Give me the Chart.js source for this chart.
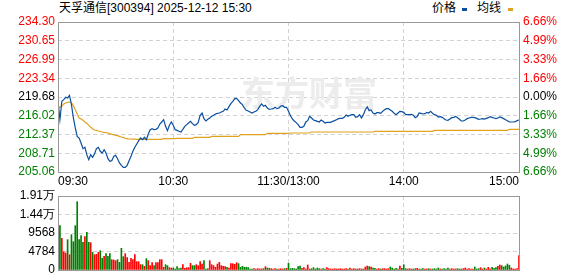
<!DOCTYPE html>
<html>
<head>
<meta charset="utf-8">
<script src="https://cdn.jsdelivr.net/npm/chart.js@4.4.0/dist/chart.umd.min.js"></script>
<style>
  html, body { margin: 0; padding: 0; background: #fff; overflow: hidden; }
  #wrap { position: relative; width: 578px; height: 276px; overflow: hidden; }
  .txt { position: absolute; font: 12px "Liberation Sans", "Noto Sans CJK SC", sans-serif; line-height: 14px; color: #000; white-space: nowrap; }
  .mark { position: absolute; width: 5px; height: 3px; }
  #priceBox { position: absolute; left: 0; top: 0; width: 578px; height: 190px; }
  #volBox { position: absolute; left: 0; top: 185px; width: 578px; height: 100px; }
</style>
</head>
<body>
<div id="wrap">
  <div class="txt" style="left:59px; top:1px;">天孚通信[300394] 2025-12-12 15:30</div>
  <div class="txt" style="left:432px; top:1px;">价格</div>
  <div class="mark" style="left:462px; top:8px; background:#0a4fa0;"></div>
  <div class="txt" style="left:477px; top:1px;">均线</div>
  <div class="mark" style="left:508px; top:8px; background:#e0a21f;"></div>
  <div id="priceBox"><canvas id="priceChart" width="578" height="190"></canvas></div>
  <div id="volBox"><canvas id="volChart" width="578" height="100"></canvas></div>
</div>
<script>
// previous close, axis ticks and labels
const prevClose = 219.68;
const priceTicks = [234.30, 230.65, 226.99, 223.34, 219.68, 216.02, 212.37, 208.71, 205.06];
const pctLabels = ['6.66%', '4.99%', '3.33%', '1.66%', '0.00%', '1.66%', '3.33%', '4.99%', '6.66%'];
const volTicks = [0, 4784, 9568, 14352, 19136];
const volLabels = ['0', '4784', '9568', '1.44万', '1.91万'];
const timeTicks = [0, 60, 120, 180, 240];
const timeLabels = ['09:30', '10:30', '11:30/13:00', '14:00', '15:00'];

// minute prices, 09:30 .. 15:00 (241 points)
const prices = [
  218.84, 215.26, 218.84, 219.16, 219.62, 219.49, 220.00, 218.19, 215.59, 213.64,
  212.01, 211.69, 210.71, 209.61, 209.87, 208.44, 207.47, 208.44, 207.92, 208.57,
  209.61, 209.87, 209.09, 208.77, 209.41, 208.77, 207.66, 207.14, 207.27, 208.11,
  208.31, 207.66, 206.82, 206.36, 205.97, 205.97, 206.36, 207.27, 208.11, 209.09,
  209.87, 210.52, 211.17, 211.69, 211.36, 211.82, 211.36, 212.47, 213.31, 213.51,
  213.31, 213.38, 213.64, 214.42, 214.81, 215.26, 213.96, 213.12, 214.16, 214.81,
  214.16, 213.31, 213.18, 212.99, 212.86, 213.38, 213.96, 214.29, 214.61, 214.94,
  214.48, 214.16, 214.29, 214.74, 216.11, 216.56, 215.46, 215.00, 215.33, 215.59,
  215.91, 216.11, 216.37, 216.50, 216.56, 216.76, 216.89, 217.34, 217.15, 217.80,
  218.38, 218.84, 219.36, 219.42, 218.97, 218.51, 218.19, 217.54, 217.08, 216.95,
  216.76, 216.56, 216.76, 216.89, 217.21, 217.86, 218.32, 217.86, 218.06, 217.54,
  217.28, 217.34, 217.41, 217.67, 217.41, 217.54, 217.93, 217.99, 217.67, 217.67,
  216.89, 216.04, 215.39, 215.00, 214.68, 214.29, 213.77, 213.77, 213.96, 214.81,
  215.07, 215.91, 215.59, 215.20, 215.07, 214.94, 214.81, 215.20, 214.94, 214.61,
  214.74, 214.74, 214.74, 214.94, 215.07, 215.26, 215.46, 215.52, 215.52, 215.72,
  216.17, 215.91, 216.11, 216.24, 216.24, 215.72, 215.85, 216.24, 215.59, 216.24,
  217.21, 217.73, 217.02, 217.15, 216.56, 216.37, 216.63, 216.63, 216.50, 216.89,
  217.21, 217.41, 217.41, 217.15, 216.89, 216.50, 216.24, 216.56, 216.89, 216.82,
  216.69, 216.24, 216.24, 216.24, 216.30, 216.11, 215.65, 215.85, 216.56, 216.50,
  216.37, 216.43, 216.69, 216.56, 216.89, 216.50, 216.24, 216.11, 215.78, 215.85,
  215.72, 215.46, 215.20, 215.13, 215.39, 215.65, 215.72, 215.91, 215.65, 215.33,
  215.00, 215.00, 215.20, 215.46, 215.59, 215.72, 215.72, 215.65, 215.52, 215.33,
  215.39, 215.46, 215.39, 215.52, 215.65, 215.85, 215.72, 215.59, 215.46, 215.59,
  215.78, 215.65, 215.46, 215.26, 215.07, 214.81, 214.81, 214.81, 214.87, 215.07, 215.20
];

// average price line
const avgPrices = [
  217.54, 217.73, 217.86, 218.32, 218.51, 218.64, 218.70, 218.58, 218.00, 217.21,
  216.37, 215.59, 215.39, 215.13, 214.81, 214.55, 214.16, 213.77, 213.51, 213.25,
  213.18, 213.05, 212.99, 212.86, 212.79, 212.73, 212.66, 212.53, 212.40, 212.34,
  212.21, 212.14, 212.01, 211.88, 211.82, 211.62, 211.56, 211.49, 211.49, 211.46,
  211.46, 211.43, 211.43, 211.43, 211.43, 211.43, 211.43, 211.43, 211.43, 211.43,
  211.43, 211.43, 211.43, 211.43, 211.43, 211.56, 211.56, 211.56, 211.56, 211.56,
  211.56, 211.56, 211.62, 211.62, 211.62, 211.62, 211.62, 211.62, 211.62, 211.62,
  211.62, 211.82, 211.82, 211.82, 211.82, 211.82, 211.82, 211.82, 211.82, 211.82,
  212.01, 212.01, 212.01, 212.01, 212.01, 212.01, 212.01, 212.01, 212.01, 212.01,
  212.01, 212.01, 212.01, 212.01, 212.01, 212.34, 212.34, 212.34, 212.34, 212.34,
  212.34, 212.34, 212.34, 212.34, 212.34, 212.34, 212.34, 212.34, 212.34, 212.60,
  212.60, 212.60, 212.60, 212.60, 212.60, 212.60, 212.60, 212.60, 212.60, 212.60,
  212.60, 212.66, 212.66, 212.66, 212.66, 212.66, 212.66, 212.66, 212.66, 212.66,
  212.66, 212.66, 212.86, 212.86, 212.86, 212.86, 212.86, 212.86, 212.86, 212.86,
  212.86, 212.86, 212.86, 212.86, 212.86, 212.86, 212.86, 212.86, 212.86, 212.86,
  212.86, 212.86, 212.86, 212.86, 212.86, 212.86, 212.86, 212.86, 212.86, 212.86,
  212.86, 212.86, 212.86, 212.86, 212.86, 212.99, 212.99, 212.99, 212.99, 212.99,
  212.99, 212.99, 212.99, 212.99, 212.99, 212.99, 212.99, 212.99, 212.99, 212.99,
  212.99, 212.99, 212.99, 212.99, 212.99, 212.99, 212.99, 212.99, 212.99, 212.99,
  212.99, 212.99, 212.99, 212.99, 212.99, 212.99, 213.18, 213.18, 213.18, 213.18,
  213.18, 213.18, 213.18, 213.18, 213.18, 213.18, 213.18, 213.18, 213.18, 213.18,
  213.18, 213.18, 213.18, 213.18, 213.18, 213.18, 213.18, 213.18, 213.18, 213.18,
  213.18, 213.18, 213.18, 213.18, 213.18, 213.18, 213.18, 213.18, 213.18, 213.18,
  213.18, 213.18, 213.18, 213.18, 213.18, 213.38, 213.38, 213.38, 213.38, 213.38, 213.38
];

// minute volume (shares)
const volumes = [
  16895, 11465, 8189, 4741, 4396, 7844, 3965, 9137, 7327, 11465,
  17671, 7844, 8879, 7155, 8620, 9741, 7155, 7068, 4569, 3965,
  4051, 4569, 5000, 3017, 3534, 4224, 3534, 4224, 2672, 2586,
  2414, 2672, 1983, 5603, 3448, 4224, 3189, 1983, 3017, 2672,
  3965, 2155, 2155, 1379, 1379, 948, 2931, 2414, 1121, 1896,
  1121, 1896, 1896, 2672, 2672, 690, 1379, 1121, 603, 517,
  517, 259, 862, 345, 517, 1379, 431, 603, 603, 1724,
  1121, 1121, 1379, 1121, 2155, 1552, 2414, 259, 345, 2414,
  1379, 1121, 690, 1552, 1983, 1121, 948, 862, 690, 517,
  1638, 1638, 1465, 1896, 1638, 690, 948, 690, 690, 603,
  259, 259, 345, 259, 345, 259, 300, 345, 862, 517,
  431, 345, 259, 345, 259, 259, 345, 259, 345, 431,
  1724, 345, 431, 345, 259, 862, 1034, 431, 603, 259,
  1293, 259, 345, 603, 259, 517, 345, 259, 345, 259,
  603, 345, 259, 259, 345, 259, 259, 345, 259, 259,
  345, 259, 517, 259, 345, 259, 259, 345, 259, 259,
  776, 1034, 862, 776, 517, 431, 259, 345, 259, 345,
  345, 259, 345, 776, 517, 259, 431, 259, 1034, 431,
  1379, 345, 259, 345, 259, 259, 345, 431, 259, 259,
  345, 259, 259, 345, 259, 259, 345, 259, 517, 259,
  259, 345, 259, 517, 259, 345, 259, 259, 345, 259,
  259, 345, 517, 259, 345, 259, 259, 776, 259, 345,
  603, 259, 517, 259, 690, 259, 690, 431, 603, 948,
  1293, 1121, 776, 1034, 1552, 1207, 517, 259, 259, 345, 3707
];

const RED = '#ff0000';
const GREEN = '#008000';
const FONT = { family: '"Liberation Sans", Arial, sans-serif', size: 12 };
const GRID = '#d2d2d2';

function priceColor(v) {
    if (v > prevClose + 0.001) return RED;
    if (v < prevClose - 0.001) return GREEN;
    return '#000';
}

// frame, watermark and time labels
const framePlugin = {
    id: 'frame',
    beforeDatasetsDraw(chart, args, opts) {
        if (!opts.watermark) return;
        const ctx = chart.ctx;
        ctx.save();
        ctx.fillStyle = '#ececec';
        ctx.font = 'bold 34px "Noto Sans CJK SC", sans-serif';
        ctx.textBaseline = 'alphabetic';
        ctx.fillText('东方财富', 241, 106);
        ctx.restore();
    },
    afterDraw(chart, args, opts) {
        const ctx = chart.ctx;
        const a = chart.chartArea;
        ctx.save();
        ctx.strokeStyle = '#999';
        ctx.lineWidth = 1;
        ctx.strokeRect(Math.round(a.left) + 0.5, Math.round(a.top) + 0.5,
            Math.round(a.right - a.left), Math.round(a.bottom - a.top));
        if (opts.timeLabels) {
            const xs = chart.scales.x;
            ctx.fillStyle = '#000';
            ctx.font = '12px "Liberation Sans", Arial, sans-serif';
            ctx.textBaseline = 'middle';
            timeTicks.forEach((t, i) => {
                ctx.textAlign = i === 0 ? 'left' : (i === timeTicks.length - 1 ? 'right' : 'center');
                ctx.fillText(timeLabels[i], xs.getPixelForValue(t), a.bottom + 10);
            });
        }
        ctx.restore();
    }
};

function timeAxis() {
    return {
        type: 'linear',
        min: 0,
        max: 240,
        offset: false,
        afterBuildTicks: scale => { scale.ticks = timeTicks.map(v => ({ value: v })); },
        ticks: { display: false },
        grid: { color: GRID, drawTicks: false, offset: false },
        border: { display: false, dash: [4, 3] }
    };
}

function renderPriceChart() {
    new Chart('priceChart', {
        type: 'line',
        data: {
            datasets: [{
                data: prices.map((p, i) => ({ x: i, y: p })),
                borderColor: '#0a4fa0',
                borderWidth: 1.2,
                pointRadius: 0,
                tension: 0
            }, {
                data: avgPrices.map((p, i) => ({ x: i, y: p })),
                borderColor: '#e0a21f',
                borderWidth: 1.2,
                pointRadius: 0,
                tension: 0
            }]
        },
        options: {
            responsive: false,
            animation: false,
            events: [],
            layout: { padding: { top: 22, bottom: 18 } },
            plugins: {
                legend: { display: false },
                tooltip: { enabled: false },
                frame: { watermark: true, timeLabels: true }
            },
            scales: {
                x: timeAxis(),
                y: {
                    position: 'left',
                    min: 205.06,
                    max: 234.30,
                    afterBuildTicks: scale => { scale.ticks = priceTicks.slice().reverse().map(v => ({ value: v })); },
                    afterFit: scale => { scale.width = 58; },
                    ticks: {
                        autoSkip: false,
                        padding: 3,
                        font: FONT,
                        color: ctx => priceColor(ctx.tick.value),
                        callback: v => v.toFixed(2)
                    },
                    grid: { color: GRID, drawTicks: false },
                    border: { display: false, dash: [4, 3] }
                },
                y2: {
                    position: 'right',
                    min: 205.06,
                    max: 234.30,
                    afterBuildTicks: scale => { scale.ticks = priceTicks.slice().reverse().map(v => ({ value: v })); },
                    afterFit: scale => { scale.width = 59; },
                    ticks: {
                        autoSkip: false,
                        padding: 4,
                        font: FONT,
                        color: ctx => priceColor(ctx.tick.value),
                        callback: (v, i) => pctLabels[pctLabels.length - 1 - i]
                    },
                    grid: { display: false, drawTicks: false },
                    border: { display: false }
                }
            }
        },
        plugins: [framePlugin]
    });
}

function renderVolumeChart() {
    new Chart('volChart', {
        type: 'bar',
        data: {
            datasets: [{
                data: volumes.map((v, i) => ({ x: i, y: v })),
                backgroundColor: ctx => {
                    const i = ctx.dataIndex;
                    const before = i === 0 ? prevClose : prices[i - 1];
                    return prices[i] >= before ? RED : GREEN;
                },
                barThickness: 1
            }]
        },
        options: {
            responsive: false,
            animation: false,
            events: [],
            layout: { padding: { top: 11, bottom: 15, right: 59 } },
            plugins: {
                legend: { display: false },
                tooltip: { enabled: false },
                frame: { watermark: false, timeLabels: false }
            },
            scales: {
                x: timeAxis(),
                y: {
                    position: 'left',
                    min: 0,
                    max: 19136,
                    afterBuildTicks: scale => { scale.ticks = volTicks.map(v => ({ value: v })); },
                    afterFit: scale => { scale.width = 58; },
                    ticks: {
                        autoSkip: false,
                        padding: 3,
                        font: FONT,
                        color: '#000',
                        callback: (v, i) => volLabels[i]
                    },
                    grid: { color: GRID, drawTicks: false },
                    border: { display: false, dash: [4, 3] }
                }
            }
        },
        plugins: [framePlugin]
    });
}

renderPriceChart();
renderVolumeChart();
</script>
</body>
</html>
